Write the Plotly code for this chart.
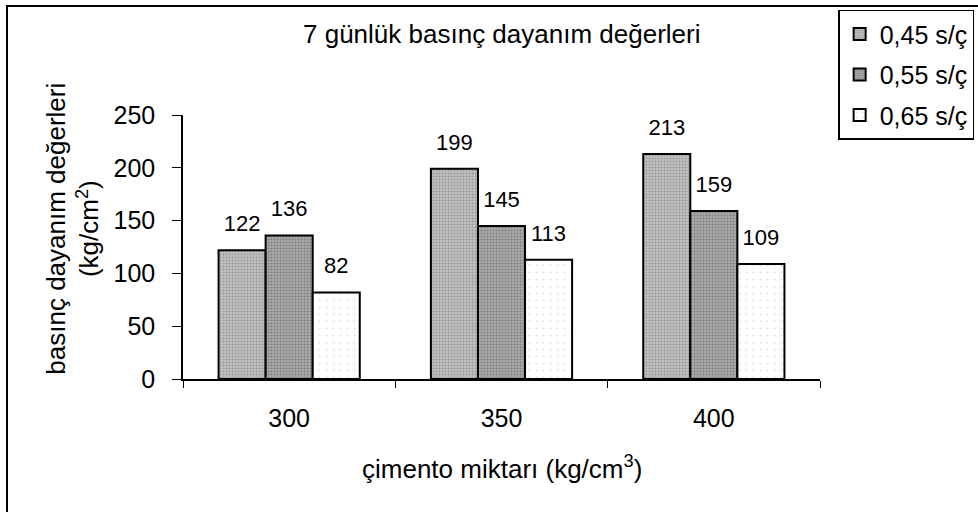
import plotly.graph_objects as go

# Cement content groups and 7-day compressive strength per water/cement ratio
categories = ["300", "350", "400"]
ratio_labels = ["0,45 s/ç", "0,55 s/ç", "0,65 s/ç"]
strength_045 = [122, 199, 213]
strength_055 = [136, 145, 159]
strength_065 = [82, 113, 109]

FONT = "Arial, Liberation Sans, sans-serif"
GAP = 0.335

# Halftone-like fills for the three series
fills = [
    dict(bg="#c2c2c2", fg="#6e6e6e", size=3, solidity=0.35),
    dict(bg="#acacac", fg="#4e4e4e", size=3, solidity=0.4),
    dict(bg="#ffffff", fg="#c4c4c4", size=7, solidity=0.08),
]

fig = go.Figure()
for name, values, f in zip(ratio_labels, [strength_045, strength_055, strength_065], fills):
    fig.add_trace(go.Bar(
        name=name,
        x=categories,
        y=values,
        legendgroup=name,
        offsetgroup=name,
        marker=dict(
            color=f["bg"],
            line=dict(color="black", width=2),
            pattern=dict(shape=".", fgcolor=f["fg"], bgcolor=f["bg"],
                         size=f["size"], solidity=f["solidity"], fillmode="overlay"),
        ),
        hoverinfo="skip",
    ))
    # value labels above each bar, aligned with the bar through its offset group
    fig.add_trace(go.Scatter(
        x=categories,
        y=values,
        mode="markers+text",
        text=[str(v) for v in values],
        textposition="top center",
        textfont=dict(family=FONT, size=22, color="black"),
        marker=dict(size=20, color="rgba(0,0,0,0)"),
        offsetgroup=name,
        legendgroup=name,
        showlegend=False,
        cliponaxis=False,
        hoverinfo="skip",
    ))

fig.update_layout(
    width=978,
    height=512,
    margin=dict(l=183, r=158, t=115, b=133),
    paper_bgcolor="white",
    plot_bgcolor="white",
    barmode="group",
    bargap=GAP,
    bargroupgap=0,
    scattermode="group",
    scattergap=GAP,
    font=dict(family=FONT, size=25, color="black"),
    showlegend=True,
    legend=dict(
        xref="container", yref="container",
        x=0.857, y=0.981, xanchor="left", yanchor="top",
        bordercolor="black", borderwidth=1.5, bgcolor="white",
        font=dict(family=FONT, size=25, color="black"),
        traceorder="grouped", tracegroupgap=5,
        itemwidth=30,
    ),
    xaxis=dict(
        showline=True, linecolor="black", linewidth=1.5,
        ticks="outside", tickson="boundaries", ticklen=7, tickcolor="black",
        tickfont=dict(family=FONT, size=25),
        ticklabelstandoff=16,
        showgrid=False, zeroline=False,
    ),
    yaxis=dict(
        range=[0, 250], dtick=50,
        showline=True, linecolor="black", linewidth=1.5,
        ticks="outside", ticklen=9, tickcolor="black",
        tickfont=dict(family=FONT, size=25),
        ticklabelstandoff=12,
        showgrid=False, zeroline=False,
    ),
    annotations=[
        dict(text="7 günlük basınç dayanım değerleri", xref="paper", yref="paper",
             x=0.5, y=1.305, xanchor="center", yanchor="middle", showarrow=False,
             font=dict(family=FONT, size=26)),
        dict(text="çimento miktarı (kg/cm<sup>3</sup>)", xref="paper", yref="paper",
             x=0.5, y=-0.335, xanchor="center", yanchor="middle", showarrow=False,
             font=dict(family=FONT, size=26)),
        dict(text="basınç dayanım değerleri<br>(kg/cm<sup>2</sup>)", xref="paper", yref="paper",
             x=-0.174, y=0.57, xanchor="center", yanchor="middle", showarrow=False,
             textangle=-90, font=dict(family=FONT, size=26)),
    ],
    shapes=[
        dict(type="rect", xref="paper", yref="paper",
             x0=-0.2763, x1=1.35, y0=-0.7, y1=1.4129,
             line=dict(color="black", width=2), fillcolor="rgba(0,0,0,0)", layer="below"),
    ],
)

fig.write_html("out.html")
